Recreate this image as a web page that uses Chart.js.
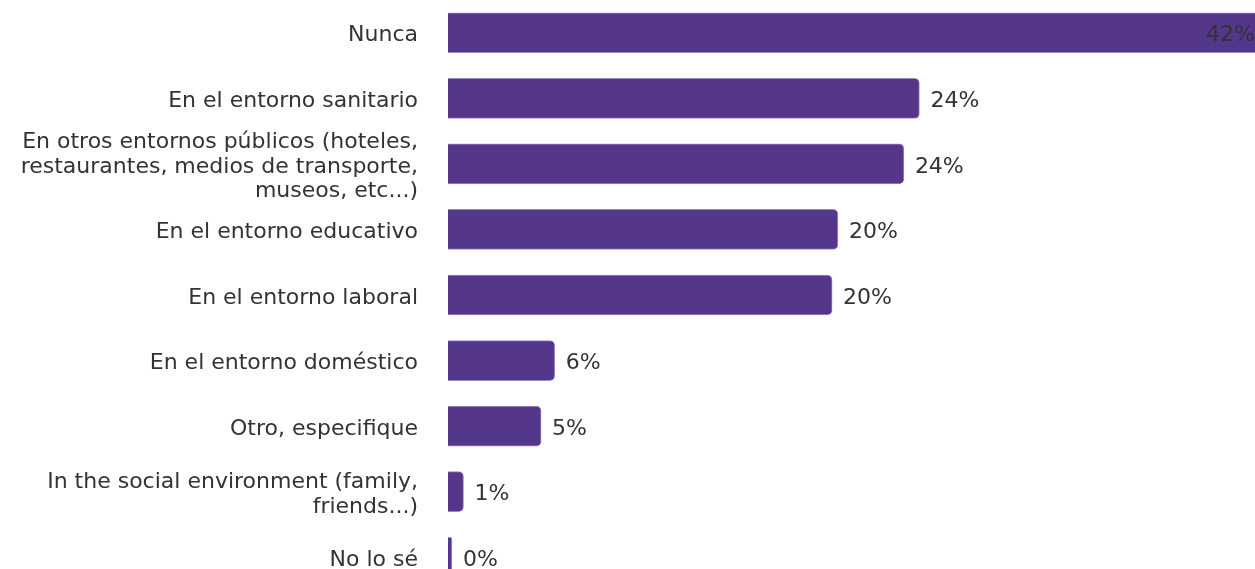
<!DOCTYPE html>
<html>
<head>
<meta charset="utf-8">
<script src="https://cdn.jsdelivr.net/npm/chart.js@4"></script>
<style>
  html, body { margin: 0; padding: 0; background: #fff; overflow: hidden; }
  #wrap { width: 1255px; height: 590px; }
</style>
</head>
<body>
<div id="wrap"><canvas id="chart" width="1255" height="590"></canvas></div>
<script>
// categorías (las etiquetas largas van partidas en líneas)
const categories = [
  'Nunca',
  'En el entorno sanitario',
  ['En otros entornos públicos (hoteles,', 'restaurantes, medios de transporte,', 'museos, etc...)'],
  'En el entorno educativo',
  'En el entorno laboral',
  'En el entorno doméstico',
  'Otro, especifique',
  ['In the social environment (family,', 'friends...)'],
  'No lo sé'
];

// porcentajes estimados del gráfico
const percentages = [42, 24.3, 23.5, 20.1, 19.8, 5.5, 4.8, 0.8, 0.2];

const axisMax = 41.6;

const FONT = 'DejaVu Sans, Verdana, sans-serif';

// Etiquetas de valor a la derecha de cada barra
const valueLabels = {
  id: 'valueLabels',
  afterDatasetsDraw(chart) {
    const ctx = chart.ctx;
    const area = chart.chartArea;
    const meta = chart.getDatasetMeta(0);
    ctx.save();
    ctx.font = '22px ' + FONT;
    ctx.fillStyle = '#333';
    ctx.textBaseline = 'middle';
    ctx.textAlign = 'left';
    meta.data.forEach((bar, i) => {
      const txt = Math.round(percentages[i]) + '%';
      const w = ctx.measureText(txt).width;
      let x = Math.min(bar.x, area.right) + 11;
      // si no cabe, se pega al borde derecho
      if (x + w > area.right) x = area.right - w;
      ctx.fillText(txt, x, bar.y + 3);
    });
    ctx.restore();
  }
};

new Chart(document.getElementById('chart'), {
  type: 'bar',
  data: {
    labels: categories,
    datasets: [{
      data: percentages,
      backgroundColor: '#54378a',
      borderColor: '#9c88c4',
      borderWidth: 1,
      borderRadius: 5,
      borderSkipped: 'start',
      barThickness: 40
    }]
  },
  options: {
    indexAxis: 'y',
    responsive: false,
    animation: false,
    layout: { padding: 0 },
    plugins: {
      legend: { display: false },
      tooltip: { enabled: false }
    },
    scales: {
      x: {
        display: false,
        min: 0,
        max: axisMax
      },
      y: {
        grid: { display: false, drawTicks: false },
        border: { display: false },
        ticks: {
          autoSkip: false,
          padding: 30,
          labelOffset: 3,
          color: '#333',
          font: { family: FONT, size: 22, lineHeight: 1.13 }
        },
        afterFit(scale) {
          scale.width = 448;
          scale.paddingTop = 0;
          scale.paddingBottom = 0;
        }
      }
    }
  },
  plugins: [valueLabels]
});
</script>
</body>
</html>
